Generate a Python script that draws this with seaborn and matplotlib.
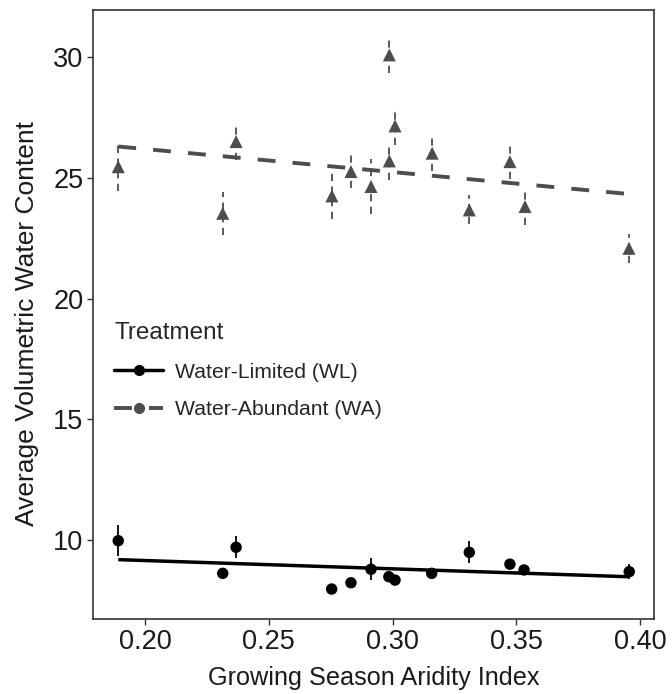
import matplotlib
matplotlib.use("Agg")
import matplotlib.pyplot as plt
from matplotlib.lines import Line2D
import seaborn as sns
import pandas as pd

# Water-Limited (WL) site means and standard errors
wl_x = [0.1892, 0.2314, 0.2368, 0.2754, 0.2832, 0.2913, 0.2985, 0.3010, 0.3158, 0.3310, 0.3474, 0.3531, 0.3956]
wl_y = [9.97, 8.62, 9.70, 7.97, 8.23, 8.79, 8.48, 8.34, 8.62, 9.49, 9.00, 8.76, 8.69]
wl_se = [0.65, 0.10, 0.46, 0.10, 0.10, 0.45, 0.15, 0.15, 0.15, 0.45, 0.20, 0.15, 0.32]

# Water-Abundant (WA) site means and standard errors
wa_x = [0.1892, 0.2314, 0.2368, 0.2755, 0.2832, 0.2913, 0.2987, 0.3010, 0.2987, 0.3160, 0.3310, 0.3474, 0.3535, 0.3955]
wa_y = [25.46, 23.53, 26.50, 24.25, 25.26, 24.64, 30.09, 27.15, 25.70, 26.02, 23.67, 25.67, 23.81, 22.08]
wa_se = [1.00, 0.90, 0.75, 0.95, 0.70, 1.15, 0.75, 0.80, 0.80, 0.75, 0.60, 0.70, 0.75, 0.60]

labels = ["Water-Limited (WL)", "Water-Abundant (WA)"]
x_ticks = [0.20, 0.25, 0.30, 0.35, 0.40]
y_ticks = [10, 15, 20, 25, 30]

wl = pd.DataFrame({"x": wl_x, "y": wl_y, "se": wl_se})
wa = pd.DataFrame({"x": wa_x, "y": wa_y, "se": wa_se})

sns.set_theme(style="white")
plt.rcParams["font.family"] = ["Liberation Sans", "DejaVu Sans"]

wl_col = "black"
wa_col = "#4D4D4D"

fig = plt.figure(figsize=(6.72, 6.94), dpi=100)
ax = fig.add_axes([0.1384, 0.1081, 0.8348, 0.8775])

# regression lines (fit on site means)
sns.regplot(data=wl, x="x", y="y", scatter=False, ci=None, truncate=True, ax=ax,
            line_kws={"color": wl_col, "lw": 2.5, "solid_capstyle": "butt"})
sns.regplot(data=wa, x="x", y="y", scatter=False, ci=None, truncate=True, ax=ax,
            line_kws={"color": wa_col, "lw": 2.8, "ls": (0, (4.6, 4.4)), "dash_capstyle": "butt"})

# error bars
ax.vlines(wl.x, wl.y - wl.se, wl.y + wl.se, color=wl_col, lw=1.3)
ax.vlines(wa.x, wa.y - wa.se, wa.y + wa.se, color=wa_col, lw=1.3, linestyles=(0, (4, 3)))

# points
sns.scatterplot(data=wl, x="x", y="y", marker="o", s=68, color=wl_col, edgecolor="none", ax=ax, zorder=3)
sns.scatterplot(data=wa, x="x", y="y", marker="^", s=88, color=wa_col, edgecolor="none", ax=ax, zorder=3)

ax.set_xlim(0.1790, 0.4056)
ax.set_ylim(6.73, 31.95)
ax.set_xticks(x_ticks)
ax.set_xticklabels([f"{t:.2f}" for t in x_ticks])
ax.set_yticks(y_ticks)
ax.tick_params(direction="out", length=4, width=1, color="#333333", labelsize=19.5,
               labelcolor="#1a1a1a", pad=3, bottom=True, left=True)
for sp in ax.spines.values():
    sp.set_color("#333333")
    sp.set_linewidth(1.2)

ax.set_xlabel("Growing Season Aridity Index", fontsize=18.2, color="#1a1a1a", labelpad=8)
ax.set_ylabel("Average Volumetric Water Content", fontsize=19, color="#1a1a1a")
ax.yaxis.set_label_coords(-0.096, 0.486)

handles = [
    Line2D([], [], color=wl_col, lw=2.5, marker="o", markersize=7),
    Line2D([], [], color=wa_col, lw=2.8, ls=(0, (4.6, 4.4)), marker="o", markersize=7),
]
leg = ax.legend(handles, labels, title="Treatment", loc="upper left",
                bbox_to_anchor=(0.03, 0.495), frameon=False, fontsize=15.2,
                title_fontsize=17.5, handlelength=2.3, handletextpad=0.55,
                labelspacing=0.88, borderaxespad=0, borderpad=0.22, alignment="left")

fig.savefig("out.png", dpi=100)
